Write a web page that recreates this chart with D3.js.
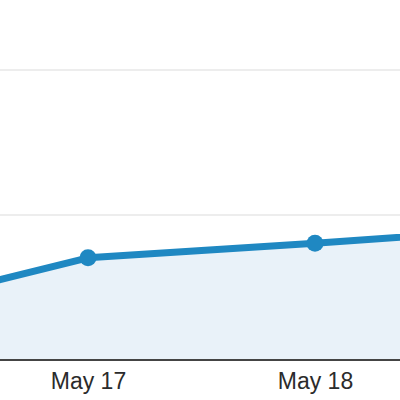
<!DOCTYPE html>
<head>
    <title>Visits</title>
    <script src='https://cdn.jsdelivr.net/npm/d3@7'></script>
</head>
<style>
    body { margin: 0; background: #fff; }
    .grid line { stroke: #ededed; stroke-width: 2px; }
    .area { fill: #e9f2f9; }
    .line { fill: none; stroke: #1f88c2; stroke-width: 7px; stroke-linejoin: round; }
    .dot { fill: #1f88c2; }
    .x-axis path { stroke: #444; stroke-width: 2px; }
    .x-axis text { font-family: Arial, 'Liberation Sans', sans-serif; font-size: 23px; fill: #2b2b2b; }
</style>
<body>
    <svg></svg>
</body>

<script>
    var vWidth = 400;
    var vHeight = 400;

    // data (only part of the series is visible in this crop)
    var days = ['2013-05-16', '2013-05-17', '2013-05-18', '2013-05-19'];
    var values = [6.3, 14.1, 16.1, 18.3];
    var gridValues = [20, 40];
    var tickDays = ['2013-05-17', '2013-05-18'];

    var parse = d3.timeParse('%Y-%m-%d');
    var data = days.map(function (d, i) { return {date: parse(d), value: values[i]}; });

    var svg = d3.select('svg')
        .attr('width', vWidth)
        .attr('height', vHeight);

    // May 17 sits at x=88, May 18 at x=315; other days fall off the edges
    var x = d3.scaleTime()
        .domain([parse('2013-05-17'), parse('2013-05-18')])
        .range([88, 315]);

    var y = d3.scaleLinear()
        .domain([0, 40])
        .range([360, 70]);

    // horizontal grid
    svg.append('g').attr('class', 'grid')
        .selectAll('line')
        .data(gridValues)
        .enter().append('line')
        .attr('x1', 0)
        .attr('x2', vWidth)
        .attr('y1', function (d) { return y(d); })
        .attr('y2', function (d) { return y(d); });

    var area = d3.area()
        .x(function (d) { return x(d.date); })
        .y0(y(0))
        .y1(function (d) { return y(d.value); });

    var line = d3.line()
        .x(function (d) { return x(d.date); })
        .y(function (d) { return y(d.value); });

    svg.append('path').datum(data).attr('class', 'area').attr('d', area);
    svg.append('path').datum(data).attr('class', 'line').attr('d', line);

    svg.selectAll('.dot')
        .data(data)
        .enter().append('circle')
        .attr('class', 'dot')
        .attr('cx', function (d) { return x(d.date); })
        .attr('cy', function (d) { return y(d.value); })
        .attr('r', 8.5);

    // x axis, no tick marks
    var xAxis = d3.axisBottom(x)
        .tickValues(tickDays.map(parse))
        .tickFormat(d3.timeFormat('%b %-d'))
        .tickSize(0)
        .tickSizeOuter(0)
        .tickPadding(13);

    var gx = svg.append('g')
        .attr('class', 'x-axis')
        .attr('transform', 'translate(0,' + y(0) + ')')
        .call(xAxis);
    gx.select('.domain').attr('d', 'M0,0H' + vWidth);
</script>
